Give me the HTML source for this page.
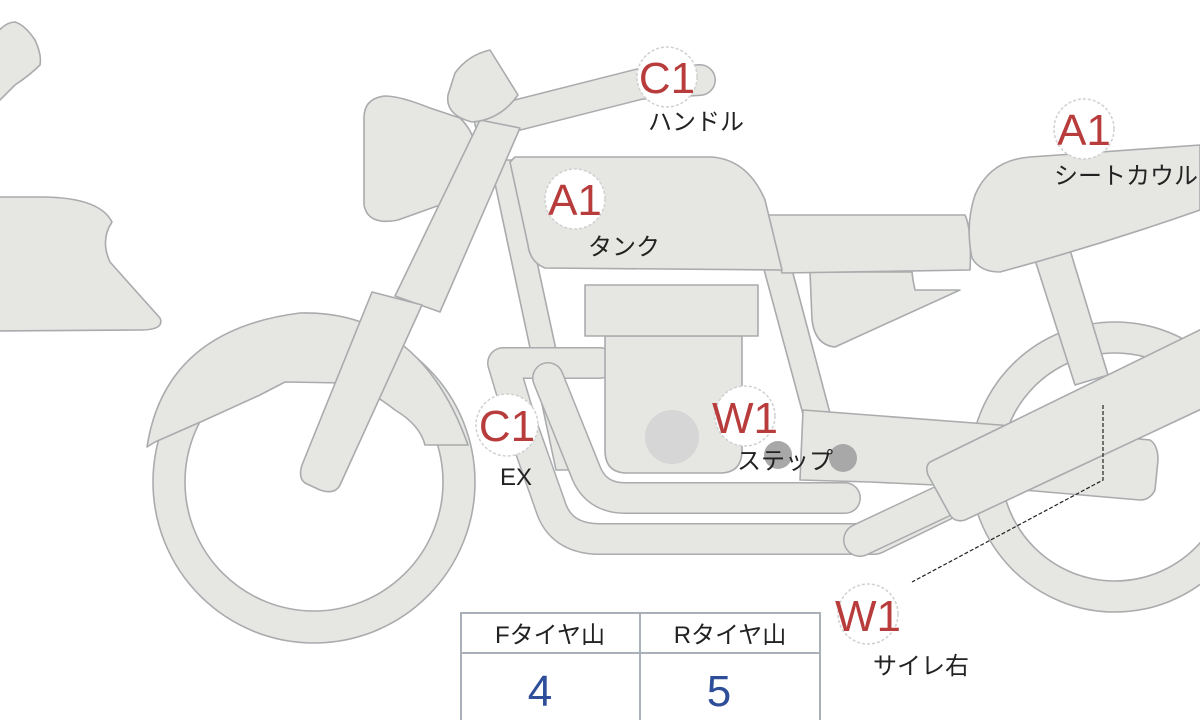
<!DOCTYPE html>
<html><head><meta charset="utf-8"><style>
html,body{margin:0;padding:0;background:#fff;width:1200px;height:720px;overflow:hidden}
svg{display:block}
.s{fill:#e6e6e3;stroke:#a9abad;stroke-width:1.6;stroke-linejoin:round}
.bo{fill:none;stroke:#a9abad;stroke-linejoin:round;stroke-linecap:round}
.bi{fill:none;stroke:#e6e6e3;stroke-linejoin:round;stroke-linecap:round}
.bd{fill:#fff;stroke:#d0d0d0;stroke-width:1.5;stroke-dasharray:3 2}
.bt{font-family:"Liberation Sans",sans-serif;font-size:44px;fill:#b83c3c;text-anchor:middle}
.lb{font-family:"Liberation Sans","Noto Sans CJK JP",sans-serif;font-size:24px;fill:#222}
</style></head><body>
<svg width="1200" height="720" viewBox="0 0 1200 720">
<path class="s" d="M-5,35 Q5,22 15,22 Q25,25 35,40 Q42,55 40,65 Q30,75 15,85 Q5,95 -5,105 Z"/>
<path class="s" d="M-5,197 L45,197 Q100,198 112,222 Q100,240 110,262 Q135,290 160,318 Q165,330 140,330 L-5,331 Z"/>
<!-- front wheel -->
<path class="s" fill-rule="evenodd" d="M153,482 a161,161 0 1,0 322,0 a161,161 0 1,0 -322,0 Z M185,482 a129,129 0 1,1 258,0 a129,129 0 1,1 -258,0 Z"/>
<path class="s" d="M147,447 Q165,330 300,313 Q420,310 468,445 L425,445 Q420,425 395,410 Q370,390 345,383 L285,382 L260,395 L205,420 L155,442 Z"/>
<!-- rear wheel -->
<path class="s" fill-rule="evenodd" d="M970,467 a145,145 0 1,0 290,0 a145,145 0 1,0 -290,0 Z M1001,467 a114,114 0 1,1 228,0 a114,114 0 1,1 -228,0 Z"/>
<path class="s" d="M1035,260 L1070,250 L1108,375 L1075,385 Z"/>
<!-- frame tubes -->
<path class="s" d="M490,160 L515,160 L582,470 L556,470 Z"/>
<path class="s" d="M762,262 L790,262 L845,470 L818,470 Z"/>
<path class="bo" stroke-width="32" d="M600,363 L503,363 L520,420 L550,505 Q560,539 600,539 L875,539 L1000,478"/>
<path class="bi" stroke-width="29" d="M600,363 L503,363 L520,420 L550,505 Q560,539 600,539 L875,539 L1000,478"/>
<path class="bo" stroke-width="32" d="M548,378 L585,470 Q595,498 625,498 L845,498"/>
<path class="bi" stroke-width="29" d="M548,378 L585,470 Q595,498 625,498 L845,498"/>
<path class="s" d="M803,410 L1000,425 L1150,440 Q1158,445 1158,460 L1155,490 Q1150,500 1140,500 L1000,488 L870,482 L800,480 Z"/>
<!-- engine -->
<path class="s" d="M605,336 L742,336 L742,450 Q742,473 720,473 L627,473 Q605,473 605,450 Z"/>
<rect class="s" x="585" y="285" width="173" height="51"/>
<circle cx="672" cy="437" r="27" fill="#d6d6d6"/>
<circle cx="778" cy="455" r="14" fill="#a8a8a8"/>
<circle cx="843" cy="458" r="14" fill="#a8a8a8"/>
<!-- muffler -->
<path class="bo" stroke-width="34" d="M860,540 L1200,380"/>
<path class="bi" stroke-width="31" d="M860,540 L1200,380"/>
<path class="s" d="M930,462 L1210,325 L1210,405 L965,520 Q955,523 950,515 L928,475 Q925,466 930,462 Z"/>
<path class="s" d="M810,272 L912,272 L913,280 L915,290 L960,290 L835,347 Q815,345 812,320 Z"/>
<path class="s" d="M752,215 L965,215 Q972,230 970,270 L782,273 Q775,245 752,215 Z"/>
<path class="s" d="M975,195 Q990,160 1030,157 L1200,145 L1200,210 Q1100,245 1000,272 Q980,272 972,258 Q965,225 975,195 Z"/>
<!-- tank -->
<path class="s" d="M515,157 L712,157 Q748,160 765,200 L782,270 L545,268 Q530,262 528,245 L510,162 Z"/>
<!-- handlebar -->
<path class="bo" stroke-width="32" d="M490,122 L640,84 L700,80"/>
<path class="bi" stroke-width="29" d="M490,122 L640,84 L700,80"/>
<!-- headlight -->
<path class="s" d="M364,118 Q364,98 385,96 Q400,96 430,108 L460,118 Q478,135 477,165 Q470,195 440,205 L398,220 Q368,226 364,205 Z"/>
<!-- fork -->
<path class="s" d="M480,120 L520,128 L440,312 L395,296 Z"/>
<path class="s" d="M372,292 L422,305 L340,485 Q335,495 320,490 L305,483 Q298,478 302,465 Z"/>
<!-- meter -->
<path class="s" d="M455,73 Q468,55 490,50 L518,95 Q500,120 472,122 Q445,115 448,95 Z"/>
<!-- badges -->
<circle class="bd" cx="667" cy="77" r="30"/><text class="bt" x="667" y="93">C1</text>
<text class="lb" x="648" y="130">ハンドル</text>
<circle class="bd" cx="575" cy="199" r="30"/><text class="bt" x="575" y="215">A1</text>
<text class="lb" x="588" y="255">タンク</text>
<circle class="bd" cx="1084" cy="129" r="30"/><text class="bt" x="1084" y="145">A1</text>
<text class="lb" x="1054" y="184">シートカウル</text>
<circle class="bd" cx="507" cy="425" r="31"/><text class="bt" x="507" y="441">C1</text>
<text class="lb" x="500" y="485">EX</text>
<circle class="bd" cx="745" cy="416" r="30"/><text class="bt" x="745" y="433">W1</text>
<text class="lb" x="737" y="469">ステップ</text>
<circle class="bd" cx="868" cy="614" r="30"/><text class="bt" x="868" y="631">W1</text>
<text class="lb" x="873" y="674">サイレ右</text>
<path d="M1103,405 L1103,480 L912,582" fill="none" stroke="#222" stroke-width="1.2" stroke-dasharray="4 2"/>
<!-- table -->
<rect x="461" y="613" width="359" height="110" fill="#fff" stroke="#aab0b8" stroke-width="2"/>
<line x1="461" y1="653" x2="820" y2="653" stroke="#aab0b8" stroke-width="2"/>
<line x1="640" y1="613" x2="640" y2="720" stroke="#aab0b8" stroke-width="2"/>
<text class="lb" x="550" y="643" text-anchor="middle">Fタイヤ山</text>
<text class="lb" x="730" y="643" text-anchor="middle">Rタイヤ山</text>
<text x="540" y="706" font-family="Liberation Sans,sans-serif" font-size="44" fill="#2f4e9a" text-anchor="middle">4</text>
<text x="719" y="706" font-family="Liberation Sans,sans-serif" font-size="44" fill="#2f4e9a" text-anchor="middle">5</text>
</svg>
</body></html>
